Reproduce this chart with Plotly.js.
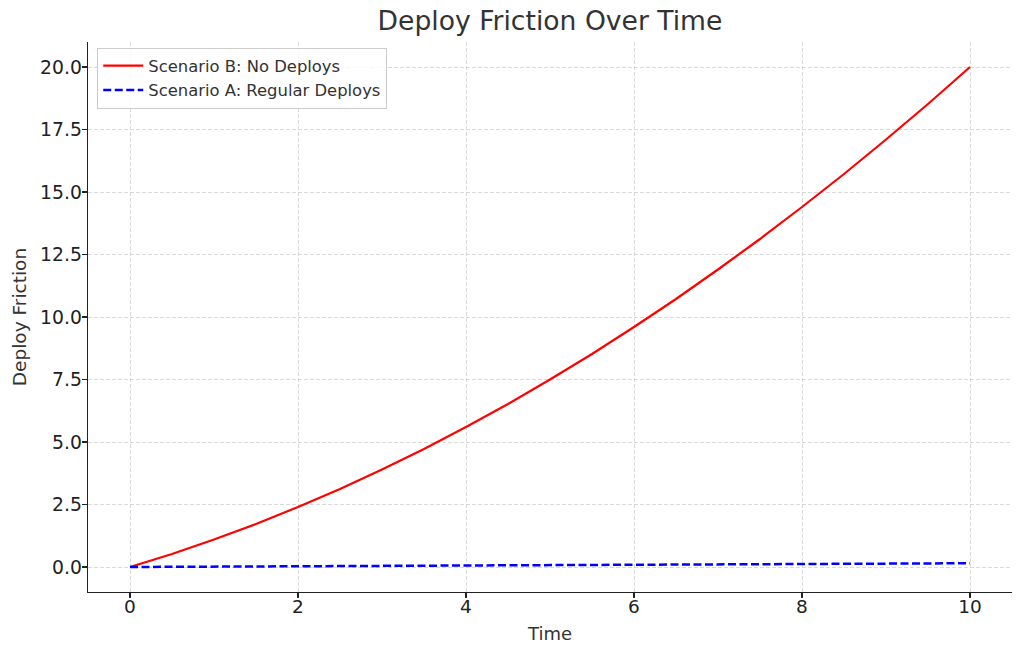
<!DOCTYPE html>
<html>
<head>
<meta charset="utf-8">
<script src="https://cdn.plot.ly/plotly-3.0.1.min.js"></script>
<style>html,body{margin:0;padding:0;background:#fff;}#chart{width:1024px;height:656px;}</style>
</head>
<body>
<div id="chart"></div>
<script>
const time = [0, 0.5, 1, 1.5, 2, 2.5, 3, 3.5, 4, 4.5, 5, 5.5, 6, 6.5, 7, 7.5, 8, 8.5, 9, 9.5, 10];
const noDeploys = [0, 0.52, 1.1, 1.72, 2.4, 3.12, 3.9, 4.72, 5.6, 6.52, 7.5, 8.52, 9.6, 10.72, 11.9, 13.12, 14.4, 15.72, 17.1, 18.52, 20.0];
const regularDeploys = [0, 0.008, 0.015, 0.022, 0.03, 0.038, 0.045, 0.052, 0.06, 0.068, 0.075, 0.082, 0.09, 0.098, 0.105, 0.112, 0.12, 0.128, 0.135, 0.142, 0.15];
const yTicks = [0, 2.5, 5, 7.5, 10, 12.5, 15, 17.5, 20];
const yTickText = ["0.0", "2.5", "5.0", "7.5", "10.0", "12.5", "15.0", "17.5", "20.0"];
const xTicks = [0, 2, 4, 6, 8, 10];

const font = "DejaVu Sans, sans-serif";
const traces = [
  {x: time, y: noDeploys, mode: "lines", name: "Scenario B: No Deploys",
   line: {color: "red", width: 2.2}},
  {x: time, y: regularDeploys, mode: "lines", name: "Scenario A: Regular Deploys",
   line: {color: "blue", width: 2.5, dash: "8px,3.5px"}}
];
const layout = {
  width: 1024, height: 656,
  margin: {l: 88, r: 12, t: 42, b: 64},
  paper_bgcolor: "#fff", plot_bgcolor: "#fff",
  font: {family: font, color: "#333"},
  title: {text: "Deploy Friction Over Time", font: {size: 26.6, color: "#333", family: font},
          xref: "paper", x: 0.5, xanchor: "center", yref: "container", y: 0.982, yanchor: "top"},
  xaxis: {
    range: [-0.5, 10.5], tickvals: xTicks, ticktext: xTicks.map(String),
    showgrid: true, gridcolor: "#cfcfcf", griddash: "4px,2px", gridwidth: 0.8,
    zeroline: false, showline: true, linecolor: "#222", linewidth: 1.3,
    ticks: "outside", ticklen: 5, tickcolor: "#222", tickwidth: 1.2,
    ticklabelstandoff: -8,
    tickfont: {size: 18.5, color: "#222", family: font},
    title: {text: "Time", font: {size: 18, color: "#333", family: font}, standoff: 12}
  },
  yaxis: {
    range: [-1, 21], tickvals: yTicks, ticktext: yTickText,
    showgrid: true, gridcolor: "#cfcfcf", griddash: "4px,2px", gridwidth: 0.8,
    zeroline: false, showline: true, linecolor: "#222", linewidth: 1.3,
    ticks: "outside", ticklen: 5, tickcolor: "#222", tickwidth: 1.2,
    ticklabelstandoff: -4,
    tickfont: {size: 18.8, color: "#222", family: font},
    title: {text: "Deploy Friction", font: {size: 18.5, color: "#333", family: font}, standoff: 8}
  },
  legend: {
    x: 0.01, y: 0.99, xanchor: "left", yanchor: "top",
    bgcolor: "rgba(255,255,255,0.8)", bordercolor: "#cccccc", borderwidth: 1,
    itemwidth: 40,
    font: {size: 16.4, color: "#333", family: font}
  },
  showlegend: true
};
Plotly.newPlot("chart", traces, layout, {displayModeBar: false, staticPlot: true});
</script>
</body>
</html>
